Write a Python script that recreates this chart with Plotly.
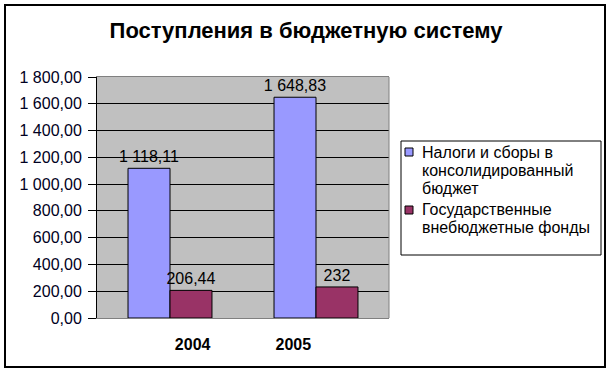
import plotly.graph_objects as go

# ---- data ----
years = [2004, 2005]
series_names = ["Налоги и сборы в консолидированный бюджет",
                "Государственные внебюджетные фонды"]
legend_lines = [["Налоги и сборы в", "консолидированный", "бюджет"],
                ["Государственные", "внебюджетные фонды"]]
taxes = [1118.11, 1648.83]
funds = [206.44, 232]
taxes_labels = ["1 118,11", "1 648,83"]
funds_labels = ["206,44", "232"]
y_ticks = [0, 200, 400, 600, 800, 1000, 1200, 1400, 1600, 1800]
title_text = "Поступления в бюджетную систему"

# ---- style ----
FONT = "Liberation Sans, Arial, sans-serif"
colors = ["#9999FF", "#993366"]
W_PX, H_PX = 612, 373
L, R, T, B = 97, 389, 77, 318  # plot area in pixels


def px(x):
    return (x - L) / (R - L)


def py(y):
    return (B - y) / (B - T)


fig = go.Figure()
for vals, labels, name, col in [(taxes, taxes_labels, series_names[0], colors[0]),
                                (funds, funds_labels, series_names[1], colors[1])]:
    fig.add_trace(go.Bar(
        x=years, y=vals, name=name, text=labels,
        textposition="outside", cliponaxis=False, constraintext="none",
        textfont=dict(family=FONT, size=16, color="#000000"),
        marker=dict(color=col, line=dict(color="#000000", width=1)),
        showlegend=False,
    ))

label_offset = 0.155
fig.update_layout(
    width=W_PX, height=H_PX,
    margin=dict(l=L, r=W_PX - R, t=T, b=H_PX - B),
    paper_bgcolor="#FFFFFF",
    plot_bgcolor="#C0C0C0",
    barmode="group", bargap=0.425, bargroupgap=0,
    separators=", ",
    font=dict(family=FONT, size=16, color="#000000"),
    title=dict(text=title_text, x=306 / W_PX, xanchor="center",
               y=1 - 30 / H_PX, yanchor="middle",
               font=dict(family=FONT, size=22, color="#000000", weight="bold")),
    xaxis=dict(range=[years[0] - 0.5, years[-1] + 0.5],
               tickvals=[years[0] + label_offset, years[1] - label_offset],
               ticktext=[str(y) for y in years],
               tickfont=dict(family=FONT, size=16, color="#000000", weight="bold"),
               ticks="", showgrid=False, zeroline=False,
               showline=True, linecolor="#808080", linewidth=1, mirror=True,
               ticklabelstandoff=12),
    yaxis=dict(range=[0, 1800], tickvals=y_ticks, tickformat=",.2f",
               tickfont=dict(family=FONT, size=16, color="#000022"),
               showgrid=True, gridcolor="#000000", gridwidth=1,
               zeroline=False, showline=True, linecolor="#000000", linewidth=1,
               ticks="outside", ticklen=8, tickcolor="#000000", tickwidth=1,
               ticklabelstandoff=3),
)

shapes = [
    # right border of plot area
    dict(type="line", xref="x domain", yref="y domain", x0=1, x1=1, y0=0, y1=1,
         line=dict(color="#808080", width=1)),
    # outer frame
    dict(type="rect", xref="paper", yref="paper",
         x0=px(5), x1=px(605), y0=py(367), y1=py(5),
         line=dict(color="#000000", width=2), layer="above"),
    # legend box
    dict(type="rect", xref="paper", yref="paper",
         x0=px(401), x1=px(601), y0=py(255), y1=py(141),
         line=dict(color="#000000", width=1), fillcolor="rgba(0,0,0,0)"),
]
annotations = []
swatch_tops = [148, 206]
line_centers = [[152, 170, 188], [209, 227]]
for i, col in enumerate(colors):
    shapes.append(dict(type="rect", xref="paper", yref="paper",
                       x0=px(405), x1=px(413), y0=py(swatch_tops[i] + 8), y1=py(swatch_tops[i]),
                       fillcolor=col, line=dict(color="#000000", width=1)))
    for line, yc in zip(legend_lines[i], line_centers[i]):
        annotations.append(dict(text=line, xref="paper", yref="paper",
                                x=px(420), y=py(yc), xanchor="left", yanchor="middle",
                                showarrow=False,
                                font=dict(family=FONT, size=16, color="#000000")))
fig.update_layout(shapes=shapes, annotations=annotations)

fig.write_html("out.html")
